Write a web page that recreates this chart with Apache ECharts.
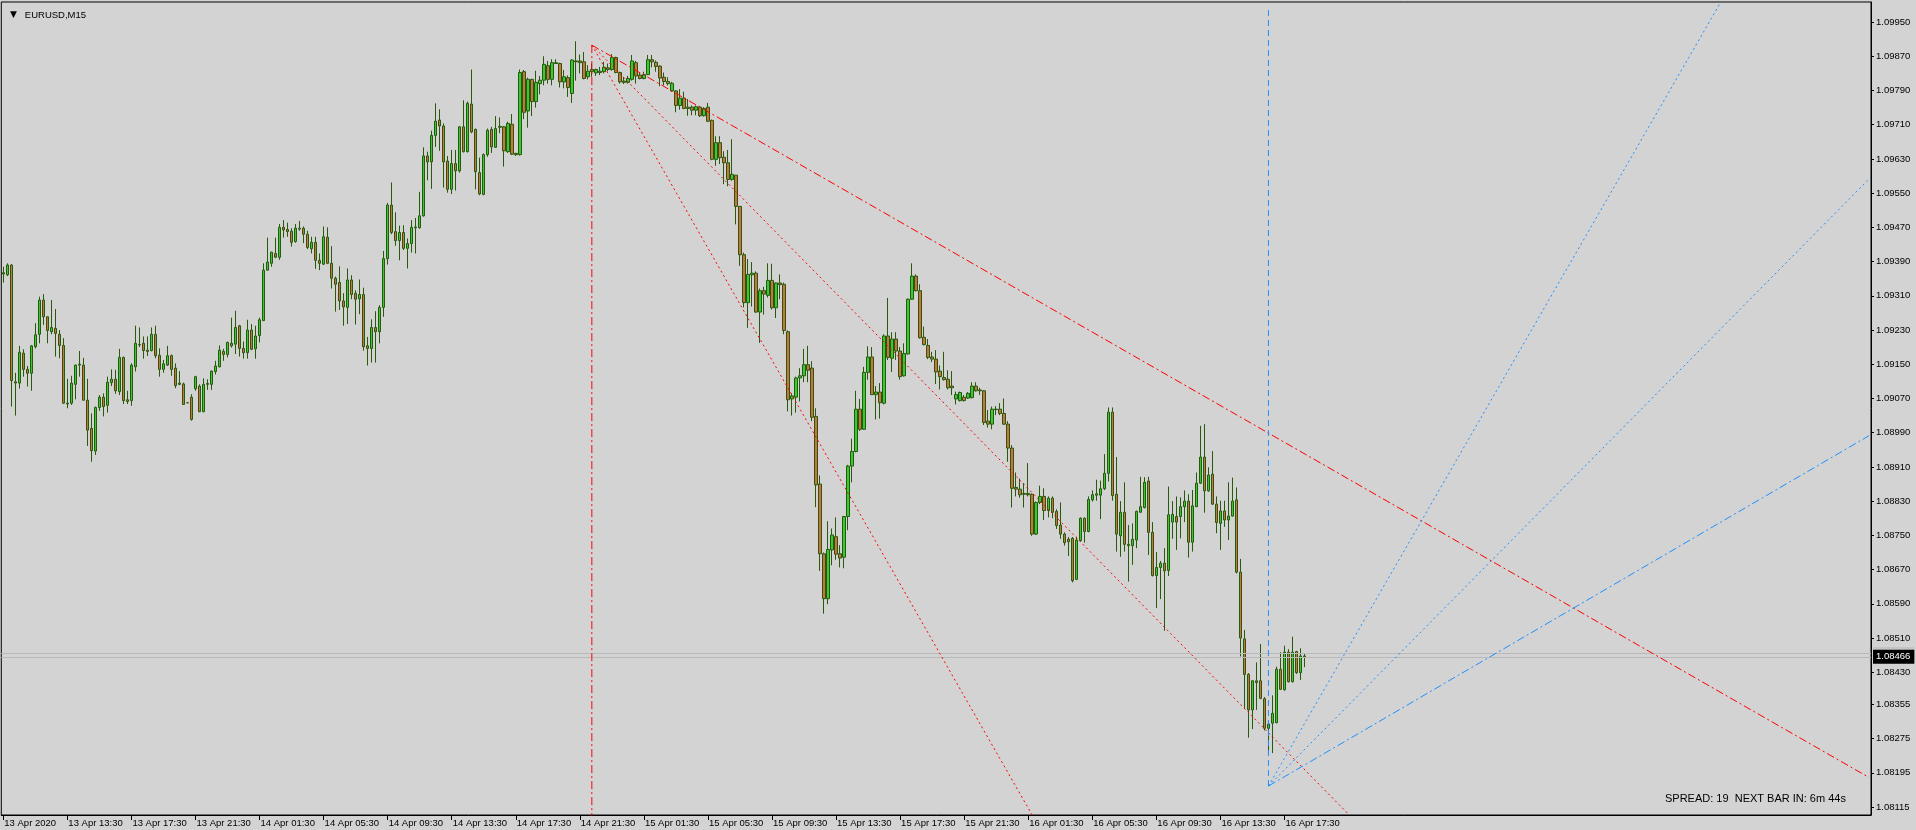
<!DOCTYPE html>
<html><head><meta charset="utf-8">
<script src="https://cdn.jsdelivr.net/npm/echarts@6/dist/echarts.min.js"></script>
<style>html,body{margin:0;padding:0;background:#d3d3d3;overflow:hidden}#c{width:1916px;height:830px}</style>
</head><body><div id="c"></div>
<script>
// ---- data ----
const symbolTitle = 'EURUSD,M15';
const infoText = 'SPREAD: 19  NEXT BAR IN: 6m 44s';
const firstBarTime = Date.UTC(2020, 3, 13, 9, 30);
const barMinutes = 15;
const slotCount = 467;          // visible bar slots incl. empty future area
const labelEvery = 16;
const xTickLabels = ['13 Apr 2020','13 Apr 13:30','13 Apr 17:30','13 Apr 21:30','14 Apr 01:30','14 Apr 05:30','14 Apr 09:30','14 Apr 13:30','14 Apr 17:30','14 Apr 21:30','15 Apr 01:30','15 Apr 05:30','15 Apr 09:30','15 Apr 13:30','15 Apr 17:30','15 Apr 21:30','16 Apr 01:30','16 Apr 05:30','16 Apr 09:30','16 Apr 13:30','16 Apr 17:30'];
const yTickValues = [1.09950,1.09870,1.09790,1.09710,1.09630,1.09550,1.09470,1.09390,1.09310,1.09230,1.09150,1.09070,1.08990,1.08910,1.08830,1.08750,1.08670,1.08590,1.08510,1.08430,1.08355,1.08275,1.08195,1.08115];
const yMin = 1.080963, yMax = 1.099968;
const bidPrice = 1.08466, askPrice = 1.08475;

const opens = [1.09364,1.09359,1.09382,1.09109,1.09106,1.09176,1.09138,1.09129,1.09191,1.09220,
1.09300,1.09261,1.09226,1.09234,1.09220,1.09194,1.09059,1.09059,1.09103,1.09148,
1.09148,1.09066,1.09000,1.08947,1.09049,1.09073,1.09054,1.09107,1.09115,1.09086,
1.09166,1.09067,1.09065,1.09144,1.09196,1.09199,1.09183,1.09182,1.09220,1.09171,
1.09138,1.09148,1.09170,1.09141,1.09106,1.09104,1.09060,1.09073,1.09093,1.09099,
1.09039,1.09105,1.09103,1.09133,1.09144,1.09180,1.09173,1.09199,1.09197,1.09240,
1.09187,1.09177,1.09230,1.09186,1.09217,1.09252,1.09370,1.09386,1.09409,1.09400,
1.09470,1.09465,1.09461,1.09437,1.09468,1.09468,1.09454,1.09420,1.09435,1.09393,
1.09384,1.09447,1.09386,1.09351,1.09341,1.09298,1.09283,1.09347,1.09316,1.09303,
1.09313,1.09193,1.09187,1.09236,1.09226,1.09283,1.09397,1.09522,1.09460,1.09439,
1.09458,1.09421,1.09432,1.09469,1.09469,1.09497,1.09637,1.09623,1.09685,1.09721,
1.09707,1.09625,1.09559,1.09619,1.09602,1.09705,1.09647,1.09758,1.09699,1.09598,
1.09547,1.09640,1.09699,1.09657,1.09704,1.09705,1.09647,1.09711,1.09643,1.09640,
1.09834,1.09742,1.09816,1.09764,1.09806,1.09814,1.09848,1.09816,1.09855,1.09853,
1.09810,1.09820,1.09783,1.09859,1.09859,1.09857,1.09822,1.09839,1.09831,1.09835,
1.09834,1.09843,1.09839,1.09867,1.09832,1.09812,1.09809,1.09816,1.09855,1.09826,
1.09818,1.09827,1.09862,1.09856,1.09847,1.09821,1.09811,1.09789,1.09789,1.09755,
1.09772,1.09751,1.09751,1.09744,1.09751,1.09731,1.09751,1.09720,1.09629,1.09668,
1.09634,1.09621,1.09582,1.09592,1.09519,1.09406,1.09294,1.09359,1.09363,1.09272,
1.09322,1.09311,1.09346,1.09282,1.09340,1.09337,1.09226,1.09069,1.09073,1.09118,
1.09123,1.09149,1.09141,1.09028,1.08870,1.08707,1.08602,1.08716,1.08747,1.08707,
1.08699,1.08794,1.08912,1.08946,1.09045,1.08998,1.09131,1.09167,1.09079,1.09085,
1.09059,1.09216,1.09164,1.09209,1.09181,1.09123,1.09174,1.09302,1.09356,1.09322,
1.09213,1.09194,1.09167,1.09162,1.09134,1.09119,1.09115,1.09099,1.09069,1.09065,
1.09073,1.09071,1.09072,1.09099,1.09090,1.09088,1.09017,1.09010,1.09044,1.09045,
1.09035,1.09010,1.08954,1.08862,1.08858,1.08848,1.08848,1.08846,1.08753,1.08827,
1.08841,1.08808,1.08837,1.08806,1.08774,1.08753,1.08741,1.08743,1.08647,1.08738,
1.08790,1.08759,1.08833,1.08844,1.08844,1.08859,1.08895,1.09038,1.08846,1.08749,
1.08804,1.08729,1.08726,1.08739,1.08804,1.08815,1.08877,1.08757,1.08656,1.08675,
1.08685,1.08668,1.08781,1.08794,1.08794,1.08817,1.08830,1.08734,1.08817,1.08872,
1.08933,1.08854,1.08893,1.08823,1.08778,1.08807,1.08786,1.08795,1.08833,1.08664,
1.08508,1.08425,1.08342,1.08410,1.08410,1.08368,1.08299,1.08311,1.08312,1.08437,
1.08389,1.08477,1.08408,1.08478,1.08429,1.08468];

const closes = [1.09361,1.09382,1.09112,1.09106,1.09178,1.09138,1.09129,1.09193,1.09219,1.09300,
1.09261,1.09229,1.09236,1.09222,1.09194,1.09059,1.09057,1.09106,1.09148,1.09150,
1.09066,1.08996,1.08948,1.09049,1.09073,1.09051,1.09108,1.09115,1.09088,1.09166,
1.09065,1.09063,1.09148,1.09199,1.09195,1.09182,1.09180,1.09220,1.09170,1.09138,
1.09151,1.09170,1.09138,1.09100,1.09103,1.09056,1.09060,1.09021,1.09121,1.09039,
1.09103,1.09103,1.09134,1.09146,1.09183,1.09173,1.09201,1.09193,1.09236,1.09187,
1.09177,1.09230,1.09185,1.09216,1.09254,1.09370,1.09389,1.09412,1.09400,1.09470,
1.09464,1.09460,1.09435,1.09468,1.09466,1.09454,1.09423,1.09435,1.09393,1.09386,
1.09448,1.09386,1.09351,1.09337,1.09298,1.09284,1.09347,1.09313,1.09302,1.09313,
1.09191,1.09187,1.09236,1.09226,1.09283,1.09397,1.09522,1.09458,1.09439,1.09458,
1.09421,1.09432,1.09470,1.09471,1.09497,1.09637,1.09623,1.09685,1.09718,1.09707,
1.09623,1.09559,1.09619,1.09602,1.09705,1.09647,1.09760,1.09693,1.09600,1.09548,
1.09640,1.09697,1.09658,1.09701,1.09706,1.09649,1.09713,1.09641,1.09640,1.09832,
1.09739,1.09816,1.09764,1.09809,1.09814,1.09851,1.09816,1.09855,1.09853,1.09810,
1.09822,1.09797,1.09861,1.09857,1.09855,1.09818,1.09835,1.09834,1.09839,1.09832,
1.09844,1.09839,1.09867,1.09832,1.09810,1.09809,1.09818,1.09859,1.09824,1.09818,
1.09827,1.09862,1.09857,1.09846,1.09819,1.09811,1.09806,1.09807,1.09755,1.09772,
1.09748,1.09748,1.09744,1.09752,1.09731,1.09748,1.09718,1.09629,1.09668,1.09633,
1.09621,1.09582,1.09594,1.09519,1.09406,1.09294,1.09360,1.09363,1.09272,1.09322,
1.09314,1.09346,1.09282,1.09340,1.09336,1.09229,1.09067,1.09076,1.09118,1.09123,
1.09149,1.09136,1.09026,1.08868,1.08707,1.08602,1.08717,1.08751,1.08706,1.08697,
1.08794,1.08912,1.08946,1.09045,1.08998,1.09131,1.09167,1.09079,1.09085,1.09060,
1.09216,1.09166,1.09209,1.09181,1.09121,1.09175,1.09302,1.09356,1.09322,1.09212,
1.09196,1.09166,1.09162,1.09132,1.09121,1.09114,1.09095,1.09095,1.09079,1.09084,
1.09065,1.09082,1.09099,1.09088,1.09088,1.09014,1.09010,1.09045,1.09045,1.09035,
1.09010,1.08954,1.08860,1.08858,1.08845,1.08846,1.08845,1.08753,1.08827,1.08841,
1.08808,1.08837,1.08804,1.08773,1.08753,1.08733,1.08735,1.08644,1.08739,1.08790,
1.08759,1.08834,1.08845,1.08847,1.08859,1.08895,1.09038,1.08843,1.08753,1.08804,
1.08729,1.08726,1.08741,1.08806,1.08817,1.08874,1.08757,1.08656,1.08675,1.08685,
1.08667,1.08798,1.08799,1.08781,1.08817,1.08830,1.08734,1.08819,1.08872,1.08933,
1.08854,1.08891,1.08823,1.08780,1.08807,1.08786,1.08795,1.08830,1.08664,1.08510,
1.08425,1.08342,1.08410,1.08406,1.08369,1.08299,1.08309,1.08334,1.08437,1.08390,
1.08477,1.08408,1.08477,1.08429,1.08468,1.08466];

const highs = [1.09378,1.09386,1.09384,1.09130,1.09193,1.09185,1.09146,1.09195,1.09246,1.09308,
1.09314,1.09262,1.09300,1.09279,1.09230,1.09211,1.09116,1.09123,1.09149,1.09181,
1.09165,1.09116,1.09035,1.09051,1.09078,1.09082,1.09121,1.09138,1.09137,1.09186,
1.09168,1.09088,1.09152,1.09240,1.09236,1.09215,1.09215,1.09236,1.09240,1.09187,
1.09160,1.09193,1.09173,1.09152,1.09134,1.09107,1.09061,1.09080,1.09123,1.09103,
1.09117,1.09115,1.09135,1.09158,1.09194,1.09186,1.09203,1.09259,1.09275,1.09242,
1.09203,1.09254,1.09244,1.09240,1.09259,1.09386,1.09446,1.09413,1.09446,1.09478,
1.09487,1.09481,1.09468,1.09478,1.09485,1.09472,1.09462,1.09448,1.09448,1.09409,
1.09472,1.09470,1.09426,1.09355,1.09379,1.09316,1.09374,1.09358,1.09323,1.09348,
1.09329,1.09214,1.09255,1.09274,1.09288,1.09415,1.09527,1.09575,1.09505,1.09474,
1.09475,1.09444,1.09487,1.09492,1.09553,1.09657,1.09647,1.09696,1.09760,1.09746,
1.09713,1.09637,1.09651,1.09651,1.09707,1.09767,1.09764,1.09839,1.09701,1.09633,
1.09643,1.09701,1.09705,1.09730,1.09727,1.09707,1.09717,1.09735,1.09644,1.09839,
1.09838,1.09820,1.09817,1.09836,1.09824,1.09870,1.09859,1.09863,1.09863,1.09855,
1.09838,1.09825,1.09863,1.09905,1.09874,1.09880,1.09849,1.09853,1.09841,1.09845,
1.09857,1.09853,1.09875,1.09869,1.09834,1.09822,1.09824,1.09873,1.09859,1.09831,
1.09834,1.09873,1.09873,1.09860,1.09849,1.09832,1.09821,1.09810,1.09791,1.09793,
1.09787,1.09770,1.09755,1.09755,1.09754,1.09751,1.09761,1.09722,1.09683,1.09683,
1.09648,1.09651,1.09676,1.09592,1.09520,1.09411,1.09396,1.09389,1.09367,1.09327,
1.09331,1.09386,1.09385,1.09341,1.09360,1.09341,1.09229,1.09082,1.09121,1.09141,
1.09186,1.09193,1.09157,1.09047,1.08890,1.08710,1.08783,1.08766,1.08792,1.08727,
1.08795,1.08915,1.08976,1.09088,1.09069,1.09144,1.09192,1.09190,1.09099,1.09106,
1.09220,1.09305,1.09225,1.09225,1.09190,1.09199,1.09304,1.09386,1.09360,1.09337,
1.09238,1.09209,1.09179,1.09183,1.09147,1.09179,1.09136,1.09134,1.09086,1.09086,
1.09078,1.09085,1.09108,1.09108,1.09095,1.09089,1.09043,1.09051,1.09052,1.09059,
1.09070,1.09017,1.08961,1.08897,1.08883,1.08872,1.08919,1.08848,1.08829,1.08866,
1.08860,1.08841,1.08841,1.08811,1.08827,1.08757,1.08746,1.08746,1.08747,1.08792,
1.08792,1.08841,1.08855,1.08880,1.08878,1.08940,1.09049,1.09049,1.08933,1.08830,
1.08874,1.08774,1.08778,1.08808,1.08887,1.08886,1.08887,1.08781,1.08711,1.08690,
1.08720,1.08864,1.08830,1.08841,1.08839,1.08855,1.08846,1.08856,1.08897,1.09006,
1.09010,1.08909,1.08947,1.08841,1.08831,1.08831,1.08874,1.08885,1.08862,1.08695,
1.08529,1.08428,1.08411,1.08453,1.08496,1.08372,1.08317,1.08376,1.08443,1.08477,
1.08492,1.08484,1.08513,1.08480,1.08486,1.08474];

const lows = [1.09341,1.09356,1.09051,1.09030,1.09093,1.09121,1.09098,1.09088,1.09187,1.09199,
1.09242,1.09199,1.09220,1.09168,1.09164,1.09057,1.09047,1.09055,1.09068,1.09121,
1.09065,1.08959,1.08922,1.08938,1.09041,1.09028,1.09037,1.09099,1.09081,1.09078,
1.09057,1.09057,1.09053,1.09133,1.09190,1.09163,1.09169,1.09180,1.09164,1.09121,
1.09130,1.09146,1.09123,1.09094,1.09101,1.09055,1.09059,1.09018,1.09088,1.09038,
1.09038,1.09090,1.09090,1.09126,1.09143,1.09158,1.09166,1.09189,1.09174,1.09168,
1.09163,1.09163,1.09183,1.09163,1.09201,1.09251,1.09369,1.09378,1.09398,1.09394,
1.09446,1.09448,1.09425,1.09434,1.09462,1.09433,1.09419,1.09409,1.09373,1.09370,
1.09382,1.09384,1.09327,1.09273,1.09277,1.09240,1.09244,1.09302,1.09243,1.09267,
1.09182,1.09147,1.09154,1.09154,1.09199,1.09261,1.09383,1.09454,1.09427,1.09393,
1.09417,1.09374,1.09411,1.09409,1.09467,1.09495,1.09580,1.09560,1.09658,1.09649,
1.09563,1.09551,1.09548,1.09556,1.09598,1.09645,1.09645,1.09690,1.09559,1.09545,
1.09545,1.09635,1.09644,1.09656,1.09690,1.09612,1.09644,1.09639,1.09637,1.09638,
1.09723,1.09703,1.09730,1.09750,1.09781,1.09802,1.09806,1.09802,1.09852,1.09797,
1.09795,1.09775,1.09761,1.09813,1.09830,1.09816,1.09816,1.09822,1.09824,1.09826,
1.09830,1.09835,1.09836,1.09830,1.09806,1.09805,1.09806,1.09813,1.09806,1.09816,
1.09816,1.09826,1.09844,1.09834,1.09800,1.09802,1.09802,1.09787,1.09739,1.09745,
1.09746,1.09731,1.09732,1.09732,1.09728,1.09729,1.09716,1.09627,1.09614,1.09618,
1.09571,1.09566,1.09579,1.09477,1.09380,1.09283,1.09235,1.09285,1.09270,1.09200,
1.09266,1.09306,1.09278,1.09258,1.09302,1.09220,1.09040,1.09030,1.09037,1.09063,
1.09108,1.09108,1.09017,1.08816,1.08667,1.08567,1.08589,1.08680,1.08693,1.08675,
1.08673,1.08762,1.08874,1.08944,1.08994,1.08997,1.09114,1.09078,1.09021,1.09023,
1.09056,1.09160,1.09132,1.09160,1.09114,1.09121,1.09173,1.09301,1.09320,1.09210,
1.09194,1.09162,1.09155,1.09104,1.09091,1.09112,1.09091,1.09078,1.09056,1.09063,
1.09063,1.09069,1.09070,1.09086,1.09078,1.09008,1.09002,1.08998,1.09031,1.09031,
1.09008,1.08922,1.08815,1.08841,1.08838,1.08815,1.08841,1.08749,1.08751,1.08823,
1.08786,1.08792,1.08790,1.08765,1.08742,1.08726,1.08702,1.08640,1.08646,1.08735,
1.08733,1.08757,1.08829,1.08831,1.08788,1.08856,1.08876,1.08831,1.08712,1.08700,
1.08712,1.08642,1.08681,1.08720,1.08803,1.08813,1.08704,1.08654,1.08580,1.08601,
1.08527,1.08655,1.08742,1.08716,1.08743,1.08781,1.08698,1.08712,1.08816,1.08870,
1.08803,1.08852,1.08821,1.08755,1.08716,1.08770,1.08739,1.08794,1.08661,1.08467,
1.08344,1.08277,1.08297,1.08342,1.08367,1.08294,1.08241,1.08241,1.08311,1.08389,
1.08387,1.08406,1.08406,1.08426,1.08412,1.08442];

// fan lines: [barIndex, price] pairs
const redFanAnchor = [147, 1.09896];
const redFanEnds = { vertical: [147, 1.08090], steep: [257, 1.08096], medium: [336, 1.08098], shallow: [466, 1.08184] };
const blueFanAnchor = [316, 1.08164];
const blueFanEnds = { vertical: [316, 1.09978], steep: [429, 1.09997], medium: [466, 1.09583], shallow: [466, 1.08983] };

// ---- build ----
const MON = ['Jan','Feb','Mar','Apr','May','Jun','Jul','Aug','Sep','Oct','Nov','Dec'];
const pad = n => (n < 10 ? '0' : '') + n;
const categories = [];
for (let i = 0; i < slotCount; i++) {
  const d = new Date(firstBarTime + i * barMinutes * 60000);
  categories.push(d.getUTCDate() + ' ' + MON[d.getUTCMonth()] + ' ' + pad(d.getUTCHours()) + ':' + pad(d.getUTCMinutes()));
}
const candles = opens.map((o, i) => [o, closes[i], lows[i], highs[i]]);
const isLabelSlot = i => i % labelEvery === 0 && i / labelEvery < xTickLabels.length;

const FONT = "'Liberation Sans',Arial,sans-serif";
const AXIS_FS = 9.5;
const RED = '#ff0000', BLUE = '#1e90ff';
const DOT = [2, 3], DASHDOT = [8, 3, 2, 3], DASH = [6, 4];

function seg(from, to, color, dash) {
  return { type: 'line', data: [from, to], symbol: 'none', silent: true, animation: false, clip: true, z: 5,
           lineStyle: { color: color, width: 1, type: dash } };
}

const chart = echarts.init(document.getElementById('c'), null, { renderer: 'canvas' });
chart.setOption({
  animation: false,
  backgroundColor: '#d3d3d3',
  textStyle: { fontFamily: FONT },
  title: [
    { text: '{t|▼}   ' + symbolTitle, left: 5, top: 5, textStyle: { fontSize: 9.5, fontWeight: 'normal', color: '#000', fontFamily: FONT, rich: { t: { fontSize: 9, color: '#000', fontFamily: 'DejaVu Sans' } } } },
    { text: infoText, left: 1660, top: 788, textStyle: { fontSize: 11, fontWeight: 'normal', color: '#000', fontFamily: FONT } }
  ],
  grid: { left: 1.3, right: 45, top: 2, bottom: 15, show: true, borderColor: '#000', borderWidth: 1, backgroundColor: 'transparent' },
  xAxis: {
    type: 'category', data: categories, boundaryGap: true,
    axisLine: { lineStyle: { color: '#000', width: 1 } },
    axisTick: { show: true, length: 5, alignWithLabel: true, interval: i => isLabelSlot(i), lineStyle: { color: '#000' } },
    axisLabel: { interval: i => isLabelSlot(i), align: 'left', margin: 3, fontSize: AXIS_FS, color: '#000', fontFamily: FONT, padding: [0, 0, 0, 1],
                 hideOverlap: false, showMinLabel: true, showMaxLabel: true,
                 formatter: (v, i) => isLabelSlot(i) ? xTickLabels[i / labelEvery] : '' },
    splitLine: { show: false }
  },
  yAxis: {
    type: 'value', position: 'right', min: yMin, max: yMax, scale: true,
    axisLine: { show: true, lineStyle: { color: '#000', width: 1 } },
    axisTick: { show: true, length: 3, customValues: yTickValues, lineStyle: { color: '#000' } },
    axisLabel: { customValues: yTickValues, margin: 5, fontSize: AXIS_FS, color: '#000', fontFamily: FONT, formatter: v => v.toFixed(5) },
    splitLine: { show: false }
  },
  series: [
    {
      type: 'candlestick', data: candles, barWidth: 3, z: 3,
      itemStyle: { color: '#33cc33', color0: '#d0703e', borderColor: '#275a0c', borderColor0: '#275a0c', borderWidth: 1 },
      markLine: {
        symbol: 'none', silent: true, animation: false, precision: 5,
        lineStyle: { color: '#b9b9b9', type: 'solid', width: 1 },
        data: [
          { yAxis: askPrice, label: { show: true, position: 'end', distance: 2, formatter: askPrice.toFixed(5), fontSize: AXIS_FS, fontFamily: FONT, color: '#dcdcdc', backgroundColor: '#c4c4c4', padding: [1, 4, 1, 3] } },
          { yAxis: bidPrice, label: { show: true, position: 'end', distance: 2, formatter: bidPrice.toFixed(5), fontSize: AXIS_FS, fontFamily: FONT, color: '#ffffff', backgroundColor: '#000000', padding: [2, 4, 2, 3] } }
        ]
      }
    },
    seg(redFanAnchor, redFanEnds.vertical, RED, DASHDOT),
    seg(redFanAnchor, redFanEnds.steep, RED, DOT),
    seg(redFanAnchor, redFanEnds.medium, RED, DOT),
    seg(redFanAnchor, redFanEnds.shallow, RED, DASHDOT),
    seg(blueFanAnchor, blueFanEnds.vertical, BLUE, DASH),
    seg(blueFanAnchor, blueFanEnds.steep, BLUE, DOT),
    seg(blueFanAnchor, blueFanEnds.medium, BLUE, DOT),
    seg(blueFanAnchor, blueFanEnds.shallow, BLUE, DASHDOT)
  ]
});
</script>
</body></html>
